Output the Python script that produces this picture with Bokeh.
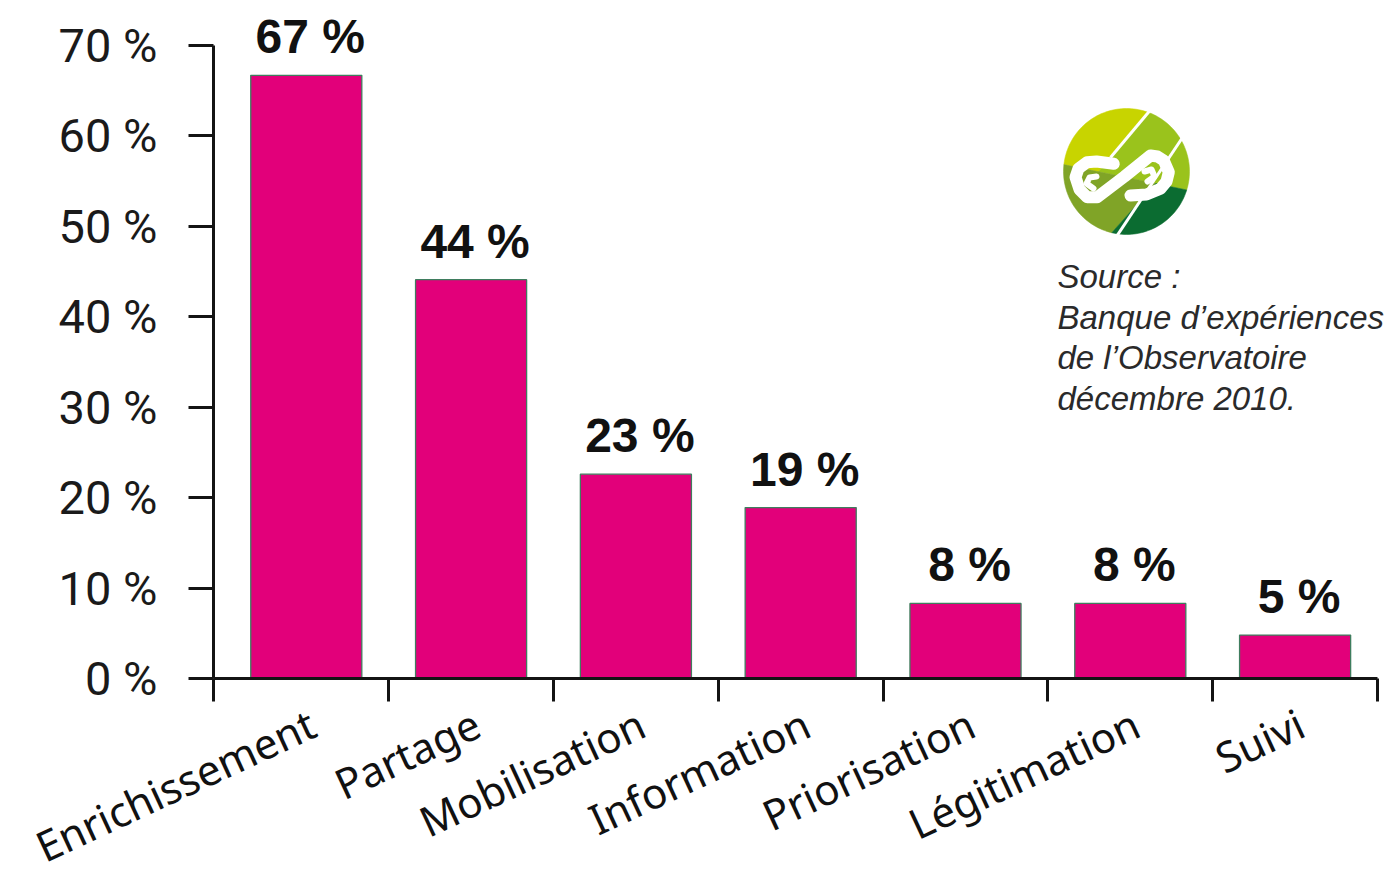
import math
from bokeh.plotting import figure
from bokeh.models import ColumnDataSource, FixedTicker, LabelSet, Label, Range1d, CustomJSTickFormatter
from bokeh.embed import file_html
from bokeh.resources import INLINE
from bokeh.core.properties import value

# ---------------- data ----------------
categories = ["Enrichissement", "Partage", "Mobilisation", "Information",
              "Priorisation", "Légitimation", "Suivi"]
shares = [66.7, 44.1, 22.6, 18.9, 8.3, 8.3, 4.8]
share_labels = ["67 %", "44 %", "23 %", "19 %", "8 %", "8 %", "5 %"]
y_ticks = [0, 10, 20, 30, 40, 50, 60, 70]
y_tick_labels = ["0 %", "10 %", "20 %", "30 %", "40 %", "50 %", "60 %", "70 %"]
source_lines = ["Source :", "Banque d’expériences", "de l’Observatoire", "décembre 2010."]

# ---------------- layout ----------------
W, H = 1396, 877
AXL, AXR, AXT, AXB = 213, 1377, 45, 678      # axis box in canvas px
X0, X1 = -0.063, 7.0
PPX = (AXR - AXL) / (X1 - X0)
PPY = (AXB - AXT) / 70.0

def px_x(px):   # canvas px -> data x
    return X0 + (px - AXL) / PPX

def px_y(py):   # canvas px -> data y
    return (AXB - py) / PPY

p = figure(width=W, height=H, output_backend="svg", toolbar_location=None,
           x_range=Range1d(px_x(0), px_x(W)), y_range=Range1d(px_y(H), px_y(0)),
           min_border_left=0, min_border_right=0, min_border_top=0, min_border_bottom=0)
p.outline_line_color = None
p.xgrid.grid_line_color = None
p.ygrid.grid_line_color = None
p.background_fill_color = "white"
p.border_fill_color = "white"

x_centers = [i + 0.5 for i in range(len(categories))]
src = ColumnDataSource(dict(x=x_centers, share=shares, lab=share_labels, cat=categories,
                            zero=[0] * len(categories)))

p.vbar(x="x", top="share", bottom=0, width=0.674, source=src,
       fill_color="#E2007A", line_color="#3f7d5e", line_width=1.3)

# axes (placed at fixed data locations so that they take no side panel)
AX = "#141414"
ya = p.yaxis[0]
ya.fixed_location = X0
ya.bounds = (0, 70)
ya.ticker = FixedTicker(ticks=y_ticks)
ya.major_label_overrides = dict(zip(y_ticks, y_tick_labels))
ya.major_tick_out = 25
ya.major_tick_in = 0
ya.minor_tick_out = 0
ya.minor_tick_in = 0
ya.axis_line_width = 3
ya.axis_line_color = AX
ya.major_tick_line_width = 3
ya.major_tick_line_color = AX
ya.major_label_standoff = 31
ya.major_label_text_font = "Roboto"
ya.major_label_text_font_size = "47px"
ya.major_label_text_color = "#1a1a1a"

xa = p.xaxis[0]
xa.fixed_location = 0
xa.bounds = (X0, X1)
xa.ticker = FixedTicker(ticks=[X0] + list(range(1, 8)))
xa.formatter = CustomJSTickFormatter(code="return ''")
xa.major_tick_out = 23
xa.major_tick_in = 0
xa.minor_tick_out = 0
xa.minor_tick_in = 0
xa.axis_line_width = 3
xa.axis_line_color = AX
xa.major_tick_line_width = 3
xa.major_tick_line_color = AX
xa.major_label_text_font_size = "1px"

# value labels
p.add_layout(LabelSet(x="x", y="share", text="lab", source=src,
                      x_offset=4, y_offset=22, text_align="center",
                      text_baseline="alphabetic",
                      text_font=value("Liberation Sans"), text_font_style="bold",
                      text_font_size="48px", text_color="#111111"))

# category labels
p.add_layout(LabelSet(x="x", y="zero", text="cat", source=src,
                      x_offset=13, y_offset=-57, angle=math.radians(25),
                      text_align="right", text_baseline="alphabetic",
                      text_font=value("Noto Sans"), text_font_size="42px",
                      text_color="#111111"))

# source text
for k, line in enumerate(source_lines):
    p.add_layout(Label(x=px_x(1057), y=px_y(276 + 40.5 * k), text=line,
                       text_font="Liberation Sans", text_font_style="italic",
                       text_font_size="33px", text_color="#2a2a2a",
                       text_align="left", text_baseline="alphabetic"))

# ---------------- logo (decoration) ----------------
LCX, LCY, LR = 1126, 171, 63

def to_data(pts):
    xs = [px_x(LCX + u) for u, v in pts]
    ys = [px_y(LCY - v) for u, v in pts]
    return xs, ys

def clip(poly, p1, p2, keep_left=True):
    def side(q):
        s = (p2[0] - p1[0]) * (q[1] - p1[1]) - (p2[1] - p1[1]) * (q[0] - p1[0])
        return s if keep_left else -s
    out = []
    n = len(poly)
    for i in range(n):
        a, b = poly[i], poly[(i + 1) % n]
        sa, sb = side(a), side(b)
        if sa >= 0:
            out.append(a)
        if (sa >= 0) != (sb >= 0):
            t = sa / (sa - sb)
            out.append((a[0] + t * (b[0] - a[0]), a[1] + t * (b[1] - a[1])))
    return out

circle = [(LR * math.cos(2 * math.pi * i / 160), LR * math.sin(2 * math.pi * i / 160)) for i in range(160)]
D1, D2 = (-63, 7), (63, -19)
A1, A2 = (-16, 14), (21, 58)
B1, B2 = (-19, -66), (14, -29)
top = clip(circle, D1, D2, True)
bot = clip(circle, D1, D2, False)
regions = [
    (clip(top, A1, A2, True), "#C8D400"),
    (clip(top, A1, A2, False), "#9AC31C"),
    (clip(bot, B1, B2, True), "#80A427"),
    (clip(bot, B1, B2, False), "#0B6C31"),
]
for poly, col in regions:
    xs, ys = to_data(poly)
    p.patch(xs, ys, fill_color=col, line_color=col, line_width=0.5)

def extend(p0, p1, r):
    dx, dy = p1[0] - p0[0], p1[1] - p0[1]
    a = dx * dx + dy * dy
    b = 2 * (p0[0] * dx + p0[1] * dy)
    c = p0[0] ** 2 + p0[1] ** 2 - r * r
    t = (-b + math.sqrt(b * b - 4 * a * c)) / (2 * a)
    return (p0[0] + t * dx, p0[1] + t * dy)

for q0, q1 in [(A1, A2), ((-40, -110), B2)]:
    e = extend(q0, q1, LR + 2)
    xs, ys = to_data([q0, e])
    p.line(xs, ys, line_color="white", line_width=3)

chain = [(-12.7, 7.7), (-30, 10), (-39.3, 9.3), (-48, 3), (-51, -5.7), (-47, -18),
         (-39.3, -25.7), (-29.3, -25.7), (-2, -5), (24, 16), (31, 15), (37.3, 11),
         (42.3, -0.7), (40, -10), (34, -17.3), (20, -23), (4, -24)]
xs, ys = to_data(chain)
p.line(xs, ys, line_color="white", line_width=12, line_join="round", line_cap="round")
hooks = [[(-30, -5), (-37, -6), (-40, -12), (-33, -17)], [(18, 0), (25, 2), (28, -5), (21, -10)]]
for h in hooks:
    xs, ys = to_data(h)
    p.line(xs, ys, line_color="white", line_width=6, line_join="round", line_cap="round")

open("out.html", "w").write(file_html(p, INLINE))
